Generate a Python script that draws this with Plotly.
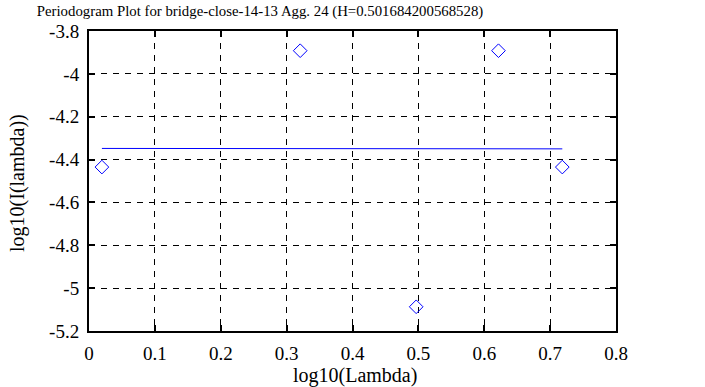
import plotly.graph_objects as go

# Data
log_lambda = [0.0196, 0.3206, 0.4967, 0.6216, 0.7185]
log_I = [-4.435, -3.892, -5.087, -3.892, -4.435]
fit_x = [0.0196, 0.7185]
fit_y = [-4.348, -4.350]

x_ticks = [0, 0.1, 0.2, 0.3, 0.4, 0.5, 0.6, 0.7, 0.8]
x_ticktext = ["0", "0.1", "0.2", "0.3", "0.4", "0.5", "0.6", "0.7", "0.8"]
y_ticks = [-3.8, -4.0, -4.2, -4.4, -4.6, -4.8, -5.0, -5.2]
y_ticktext = ["-3.8", "-4", "-4.2", "-4.4", "-4.6", "-4.8", "-5", "-5.2"]

FONT = "Liberation Serif, Times New Roman, serif"
W, H = 705, 387
L, T = 89, 31
R, B = W - 616, H - 331
PW, PH = W - L - R, H - T - B

fig = go.Figure()
fig.add_trace(go.Scatter(
    x=log_lambda, y=log_I, mode="markers",
    marker=dict(symbol="diamond-open", size=10.5, color="blue", line=dict(width=1, color="blue")),
    showlegend=False, cliponaxis=False,
))
fig.add_trace(go.Scatter(
    x=fit_x, y=fit_y, mode="lines",
    line=dict(color="blue", width=1),
    showlegend=False,
))

axis_common = dict(
    showline=True, linecolor="black", linewidth=2, mirror="ticks",
    ticks="inside", ticklen=6, tickcolor="black", tickwidth=2,
    showgrid=True, gridcolor="black", gridwidth=1, griddash="6px,6px",
    zeroline=False, automargin=False,
    tickfont=dict(family=FONT, size=19, color="black"),
)

fig.update_layout(
    width=W, height=H,
    margin=dict(l=L, r=R, t=T, b=B),
    paper_bgcolor="white", plot_bgcolor="white",
    font=dict(family=FONT, size=16, color="black"),
    title=dict(
        text="Periodogram Plot for bridge-close-14-13 Agg. 24 (H=0.501684200568528)",
        x=260 / W, xanchor="center", xref="container",
        y=1 - 11 / H, yanchor="middle", yref="container",
        font=dict(family=FONT, size=14.8, color="black"),
        automargin=False,
    ),
    xaxis=dict(
        range=[0, 0.8], tickvals=x_ticks, ticktext=x_ticktext,
        ticklabelstandoff=4,
        **axis_common,
    ),
    yaxis=dict(
        range=[-5.2, -3.8], tickvals=y_ticks, ticktext=y_ticktext,
        ticklabelstandoff=4,
        **axis_common,
    ),
    annotations=[
        dict(text="log10(Lambda)", xref="paper", yref="paper",
             x=(355 - L) / PW, y=-(375 - (H - B)) / PH,
             xanchor="center", yanchor="middle", showarrow=False,
             font=dict(family=FONT, size=20, color="black")),
        dict(text="log10(I(lambda))", xref="paper", yref="paper",
             x=-(L - 18) / PW, y=(H - B - 183) / PH,
             xanchor="center", yanchor="middle", showarrow=False, textangle=-90,
             font=dict(family=FONT, size=20, color="black")),
    ],
)

fig.write_html(
    "out.html",
    config={"displayModeBar": False},
    post_script="document.body.style.margin='0px';document.body.style.overflow='hidden';",
)
